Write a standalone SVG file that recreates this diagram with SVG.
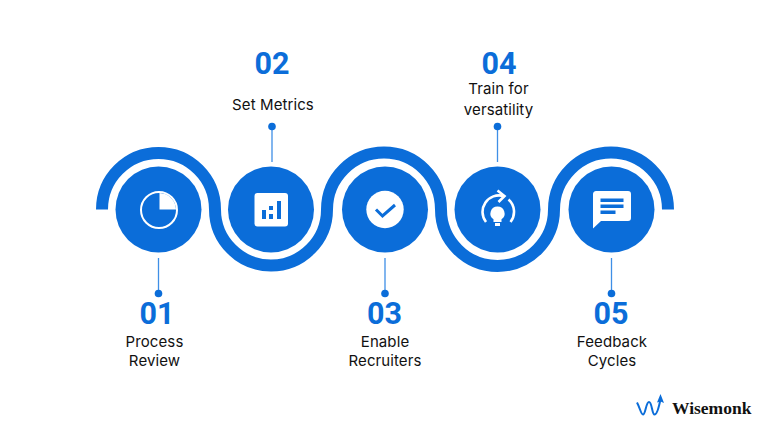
<svg xmlns="http://www.w3.org/2000/svg" width="768" height="432" viewBox="0 0 768 432">
<style>
.num{font-family:Roboto,"Liberation Sans",sans-serif;font-weight:700;font-size:30.500px;fill:#0b6dd9;text-anchor:middle}
.lab{font-family:Inter,"Liberation Sans",sans-serif;font-weight:400;font-size:15px;letter-spacing:.1px;fill:#111;text-anchor:middle}
.disc{fill:#0b6dd9}
.ln{stroke:#3f8fe6;stroke-width:1.300;fill:none}
.dot{fill:#0b6dd9}
.w{fill:#fff}
.wl{fill:none;stroke:#fff;stroke-width:2.600}
</style>
<rect width="768" height="432" fill="#fff"/>
<g id="wave"><path d="M102 209.500A56.500 56.500 0 0 1 215 209.500A56 56 0 0 0 327 209.500A57 57 0 0 1 441 209.500A56.500 56.500 0 0 0 554 209.500A57 57 0 0 1 668 209.500" fill="none" stroke="#0b6dd9" stroke-width="12"/></g>
<g id="connectors">
<path class="ln" d="M158.500 258V293M272 127V162M385 258V293M497.500 127V162M611.500 258V293"/>
<circle class="dot" cx="158.500" cy="293.500" r="3.800"/>
<circle class="dot" cx="272" cy="126.500" r="3.800"/>
<circle class="dot" cx="385" cy="293.500" r="3.800"/>
<circle class="dot" cx="497.500" cy="126.500" r="3.800"/>
<circle class="dot" cx="611.500" cy="293.500" r="3.800"/>
</g>
<g id="node1">
<circle class="disc" cx="158.500" cy="209.500" r="43"/>
<circle cx="159" cy="210" r="18" fill="none" stroke="#fff" stroke-width="2"/>
<path class="w" d="M159.500 193A17 17 0 0 1 176 209.500H159.500Z"/>
<text class="num" x="157" y="324">01</text>
<text class="lab" x="154.500" y="346.500">Process</text>
<text class="lab" x="154.500" y="365.500">Review</text>
</g>
<g id="node2">
<circle class="disc" cx="271" cy="209.500" r="43"/>
<rect class="w" x="254.500" y="193" width="33.500" height="33.500" rx="3"/>
<rect class="disc" x="262" y="210" width="4" height="9"/>
<rect class="disc" x="269" y="214" width="4" height="5"/>
<rect class="disc" x="269" y="206" width="4" height="4"/>
<rect class="disc" x="277" y="201" width="4" height="18"/>
<text class="num" x="272" y="73.500">02</text>
<text class="lab" x="273" y="109.500">Set Metrics</text>
</g>
<g id="node3">
<circle class="disc" cx="385" cy="209.500" r="43"/>
<circle class="w" cx="385" cy="209.500" r="18.700"/>
<path d="M376 209.500L382.500 216L395 205" fill="none" stroke="#0b6dd9" stroke-width="3"/>
<text class="num" x="384.500" y="324">03</text>
<text class="lab" x="385" y="346.500">Enable</text>
<text class="lab" x="385" y="365.500">Recruiters</text>
</g>
<g id="node4">
<circle class="disc" cx="497.500" cy="209.500" r="43"/>
<path class="wl" d="M486 222A16.500 16.500 0 0 1 503.500 196M508.500 199.500A16.500 16.500 0 0 1 510.500 222"/>
<path class="wl" d="M497.500 190.500L504.500 196L498.500 202"/>
<path class="w" d="M497.500 206.500a7 7 0 0 1 4 12.800v2.700h-8v-2.700a7 7 0 0 1 4-12.800z"/>
<rect class="w" x="495" y="223" width="5" height="3"/>
<text class="num" x="499" y="73.500">04</text>
<text class="lab" x="498.500" y="93.500">Train for</text>
<text class="lab" x="498.500" y="114.500">versatility</text>
</g>
<g id="node5">
<circle class="disc" cx="611.500" cy="209.500" r="43"/>
<path class="w" d="M596.500 191H628a3 3 0 0 1 3 3V218a3 3 0 0 1-3 3H601L593 228.500V194A3 3 0 0 1 596.500 191Z"/>
<rect class="disc" x="600.500" y="198.500" width="23" height="3.500"/>
<rect class="disc" x="600.500" y="204.500" width="23" height="3.500"/>
<rect class="disc" x="600.500" y="210.500" width="15" height="3.500"/>
<text class="num" x="611" y="324">05</text>
<text class="lab" x="612" y="346.500">Feedback</text>
<text class="lab" x="612" y="365.500">Cycles</text>
</g>
<g id="logo">
<path d="M637 402.500C640 408 641 414.500 643 414.500C645.500 414.500 646 402 649 402C652 402 652 414.500 654.500 414.500C657 414.500 659 407 660.500 399" fill="none" stroke="#0b6dd9" stroke-width="2"/>
<path d="M660.500 394L664 403L660.500 401.500L657 402.500Z" fill="#0b6dd9"/>
<text x="672" y="414" font-family="'Liberation Serif',serif" font-weight="700" font-size="17.500" fill="#111">Wisemonk</text>
</g>
</svg>
